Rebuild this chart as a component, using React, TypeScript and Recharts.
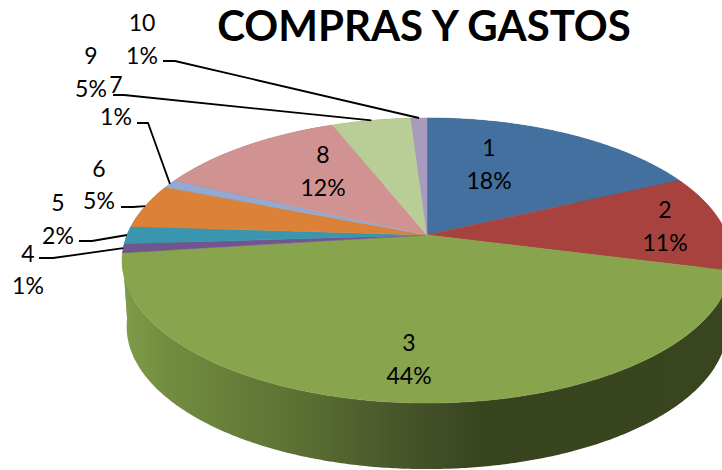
import React from 'react';
import { PieChart, Pie, Cell } from 'recharts';

const categories = ['1', '2', '3', '4', '5', '6', '7', '8', '9', '10'];
const shares = [18, 11, 44, 1, 2, 5, 1, 12, 5, 1];

const topColors = ['#44709F', '#A8423F', '#88A44D', '#71558F', '#3A96AE', '#DB8238', '#93A9D1', '#D09392', '#B9CD96', '#A99BBD'];
// the left-hand slices only show a sliver of wall, the picture has it green there
const wallColors = ['#2B4566', '#6B2A28', 'url(#greenWall)', 'url(#greenWall)', 'url(#greenWall)', 'url(#greenWall)', 'url(#greenWall)', '#825C5B', '#74805E', '#6A6176'];

const chartData = categories.map((name, i) => ({ name, value: shares[i] }));

// hand placed data labels: centre x, baseline of name, baseline of percent
const labelSpots = [
  [489, 156, 189],
  [665, 218, 251],
  [409, 351, 384],
  [28, 262, 294],
  [58, 211, 244],
  [99, 177, 209],
  [116, 93, 125],
  [323, 163, 196],
  [91, 64, 97],
  [142, 31, 64],
];
// elbow of the leader line for the outside labels: start x, elbow x, y
const leaders: Record<number, number[]> = {
  3: [39, 53, 258],
  4: [79, 92, 241],
  5: [121, 133, 207],
  6: [137, 148, 123],
  8: [113, 124, 95],
  9: [163, 175, 61],
};

const WIDTH = 722;
const HEIGHT = 470;
const CX = 427;
const CY = 235;
const RX = 300;
const RY = 138;
const TILT = 0.179; // perspective of the tilted disc
const DEPTH = 66;
const FONT = 'Lato, "Open Sans", sans-serif';

// pie angle (degrees) -> point on the tilted disc, apex sits off the ellipse centre
const project = (cx: number, cy: number, angle: number) => {
  const rad = (angle * Math.PI) / 180;
  const X = Math.cos(rad);
  const Y = -Math.sin(rad);
  const d = 1 - TILT * Y;
  return { x: cx + (RX * X) / d, y: cy + (RY * Y) / d };
};

const arcPoints = (cx: number, cy: number, start: number, end: number) => {
  const steps = Math.max(2, Math.ceil(Math.abs(start - end) * 2));
  const pts = [];
  for (let i = 0; i <= steps; i++) pts.push(project(cx, cy, start + ((end - start) * i) / steps));
  return pts;
};

const TopSlice = (props: any) => {
  const { cx, cy, startAngle, endAngle, fill } = props;
  const pts = arcPoints(cx, cy, startAngle, endAngle);
  const d = `M${cx},${cy} ` + pts.map((p) => `L${p.x},${p.y}`).join(' ') + ' Z';
  return <path d={d} fill={fill} stroke={fill} strokeWidth={0.5} />;
};

const WallSlice = (props: any) => {
  const { cx, cy, startAngle, endAngle, fill } = props;
  const pts = arcPoints(cx, cy, startAngle, endAngle);
  const low = pts.map((p) => ({ x: cx + (p.x - cx) * 0.985, y: p.y + DEPTH })).reverse();
  const d = [...pts, ...low].map((p, i) => `${i ? 'L' : 'M'}${p.x},${p.y}`).join(' ') + ' Z';
  return <path d={d} fill={fill} />;
};

const SliceLabel = (props: any) => {
  const { cx, cy, midAngle, index } = props;
  const [x, y1, y2] = labelSpots[index];
  const lead = leaders[index];
  const end = project(cx, cy, midAngle);
  return (
    <g>
      {lead && (
        <polyline
          points={`${lead[0]},${lead[2]} ${lead[1]},${lead[2]} ${end.x},${end.y}`}
          fill="none"
          stroke="#000"
          strokeWidth={1.8}
        />
      )}
      <text x={x} y={y1} textAnchor="middle" fontFamily={FONT} fontSize={23} fill="#000">
        {categories[index]}
      </text>
      <text x={x} y={y2} textAnchor="middle" fontFamily={FONT} fontSize={23} fill="#000">
        {shares[index]}%
      </text>
    </g>
  );
};

export default function App() {
  return (
    <div style={{ position: 'absolute', left: 0, top: 0, width: WIDTH, height: HEIGHT, overflow: 'hidden', background: '#fff' }}>
      <PieChart width={WIDTH} height={HEIGHT} margin={{ top: 0, right: 0, bottom: 0, left: 0 }}>
        <defs>
          <linearGradient id="greenWall" gradientUnits="userSpaceOnUse" x1={122} y1={0} x2={732} y2={0}>
            <stop offset="0" stopColor="#7F9C49" />
            <stop offset="0.074" stopColor="#728D40" />
            <stop offset="0.29" stopColor="#5C7033" />
            <stop offset="0.51" stopColor="#414E27" />
            <stop offset="0.59" stopColor="#38441D" />
            <stop offset="1" stopColor="#39451E" />
          </linearGradient>
        </defs>
        <Pie
          data={chartData}
          dataKey="value"
          nameKey="name"
          cx={CX}
          cy={CY}
          outerRadius={RX}
          startAngle={90}
          endAngle={-270}
          paddingAngle={0}
          stroke="none"
          shape={WallSlice}
          isAnimationActive={false}
        >
          {wallColors.map((c, i) => (
            <Cell key={i} fill={c} />
          ))}
        </Pie>
        <Pie
          data={chartData}
          dataKey="value"
          nameKey="name"
          cx={CX}
          cy={CY}
          outerRadius={RX}
          startAngle={90}
          endAngle={-270}
          paddingAngle={0}
          stroke="none"
          shape={TopSlice}
          label={SliceLabel}
          labelLine={false}
          isAnimationActive={false}
        >
          {topColors.map((c, i) => (
            <Cell key={i} fill={c} />
          ))}
        </Pie>
        <text x={424} y={41} textAnchor="middle" fontFamily={FONT} fontWeight={700} fontSize={42} fill="#000">
          COMPRAS Y GASTOS
        </text>
      </PieChart>
    </div>
  );
}
